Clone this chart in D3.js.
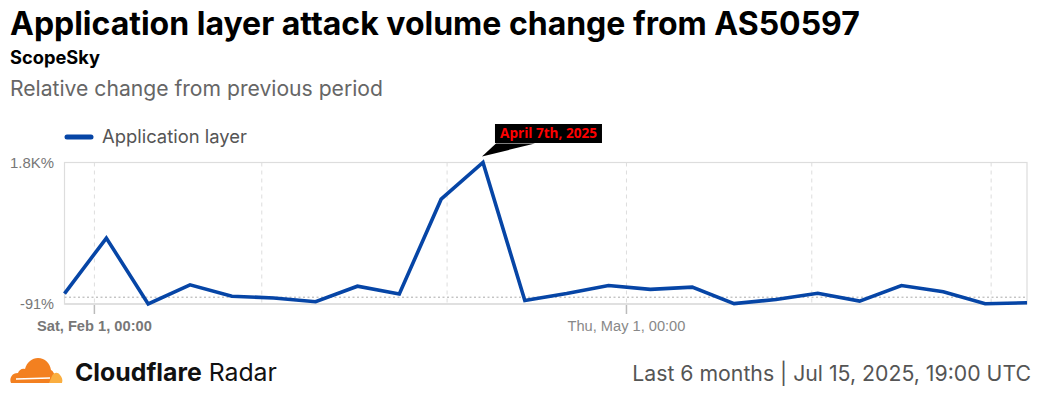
<!DOCTYPE html>
<html><head><meta charset="utf-8">
<script src="https://cdn.jsdelivr.net/npm/d3@7"></script>
<style>
html,body{margin:0;padding:0;background:#fff;}
svg{display:block;}
</style></head>
<body>
<script>
// ---- data ----
const weekStarts = ["2025-01-27","2025-02-03","2025-02-10","2025-02-17","2025-02-24","2025-03-03","2025-03-10","2025-03-17","2025-03-24","2025-03-31","2025-04-07","2025-04-14","2025-04-21","2025-04-28","2025-05-05","2025-05-12","2025-05-19","2025-05-26","2025-06-02","2025-06-09","2025-06-16","2025-06-23","2025-06-30","2025-07-07"];
const appLayerChange = [48, 790, -91, 165, 12, -10, -60, 147, 42, 1310, 1800, -45, 48, 156, 104, 135, -86, -30, 52, -52, 155, 72, -88, -75];
const yTickLabels = ["-91%", "1.8K%"];
const yTickValues = [-91, 1800];
const xTickDates = ["2025-02-01","2025-05-01"];
const xTickLabels = ["Sat, Feb 1, 00:00", "Thu, May 1, 00:00"];
const gridDates = ["2025-02-01","2025-03-01","2025-04-01","2025-05-01","2025-06-01","2025-07-01"];
const seriesName = "Application layer";
const annotationText = "April 7th, 2025";
const annotationDate = "2025-04-07";

(function(){
const W = 1045, H = 393;
const svg = d3.select("body").append("svg").attr("width", W).attr("height", H);
const parse = d3.utcParse("%Y-%m-%d");
const data = weekStarts.map((d,i)=>({date: parse(d), v: appLayerChange[i]}));

const pL = 64.5, pR = 1027, pT = 162.5, pB = 304;
const x = d3.scaleUtc().domain([parse(weekStarts[0]), parse(weekStarts[weekStarts.length-1])]).range([pL, pR]);
const y = d3.scaleLinear().domain([-91, 1800]).range([pB, pT]);

function fitText(sel, targetW){
  sel.each(function(){
    const s = d3.select(this);
    const w = this.getComputedTextLength();
    const fs = parseFloat(s.attr("font-size"));
    const t = typeof targetW === "function" ? targetW(s.datum(), this) : targetW;
    if (w > 0) s.attr("font-size", fs * t / w);
  });
}

// ---- header ----
const title = svg.append("text").attr("x", 10).attr("y", 35).attr("font-family","Inter").attr("font-weight",700)
  .attr("font-size", 28).attr("fill","#000").text("Application layer attack volume change from AS50597");
fitText(title, 850);
const sub = svg.append("text").attr("x", 10).attr("y", 64).attr("font-family","Inter").attr("font-weight",700)
  .attr("font-size", 17).attr("fill","#000").text("ScopeSky");
fitText(sub, 90);
const desc = svg.append("text").attr("x", 10).attr("y", 96).attr("font-family","Inter").attr("font-weight",400)
  .attr("font-size", 20).attr("fill","#666").text("Relative change from previous period");
fitText(desc, 373);

// ---- legend ----
svg.append("line").attr("x1", 67).attr("x2", 91).attr("y1", 137).attr("y2", 137)
  .attr("stroke","#0645a6").attr("stroke-width",5).attr("stroke-linecap","round");
const leg = svg.append("text").attr("x", 102).attr("y", 143).attr("font-family","Inter").attr("font-size", 17)
  .attr("fill","#555").text(seriesName);
fitText(leg, 145);

// ---- grid ----
const g = svg.append("g");
g.selectAll("line.vg").data(gridDates).join("line").attr("class","vg")
  .attr("x1", d=>x(parse(d))).attr("x2", d=>x(parse(d))).attr("y1", pT).attr("y2", pB)
  .attr("stroke","#ddd").attr("stroke-width",1).attr("stroke-dasharray","4,4");
g.append("rect").attr("x", pL).attr("y", pT).attr("width", pR-pL).attr("height", pB-pT)
  .attr("fill","none").attr("stroke","#ddd").attr("stroke-width",1.2);
g.append("line").attr("x1", pL).attr("x2", pR).attr("y1", y(0)).attr("y2", y(0))
  .attr("stroke","#aaa").attr("stroke-width",1).attr("stroke-dasharray","2,2.5");
g.append("line").attr("x1", pL).attr("x2", pR).attr("y1", pB).attr("y2", pB)
  .attr("stroke","#ddd").attr("stroke-width",1.5);

// ---- y axis labels ----
const yLabelW = [34, 44];
const yl = svg.selectAll("text.yl").data(yTickValues).join("text").attr("class","yl")
  .attr("x", 54).attr("y", d=>y(d)+5).attr("text-anchor","end")
  .attr("font-family","Liberation Sans, Arial").attr("font-size",14).attr("fill","#777")
  .text((d,i)=>yTickLabels[i]);
yl.each(function(d,i){ fitText(d3.select(this), yLabelW[i]); });

// ---- x axis ----
const xa = svg.append("g");
xa.selectAll("line.xt").data(xTickDates).join("line").attr("class","xt")
  .attr("x1", d=>x(parse(d))).attr("x2", d=>x(parse(d))).attr("y1", pB+1).attr("y2", pB+10)
  .attr("stroke","#bbb").attr("stroke-width",1.5);
const xLabelW = [115, 118];
const xl = xa.selectAll("text.xl").data(xTickDates).join("text").attr("class","xl")
  .attr("x", d=>x(parse(d))).attr("y", 331).attr("text-anchor","middle")
  .attr("font-family","Liberation Sans, Arial").attr("font-size",14)
  .attr("font-weight",(d,i)=> i===0 ? 700 : 400)
  .attr("fill",(d,i)=> i===0 ? "#777" : "#888")
  .text((d,i)=>xTickLabels[i]);
xl.each(function(d,i){ fitText(d3.select(this), xLabelW[i]); });

// ---- line ----
const line = d3.line().x(d=>x(d.date)).y(d=>y(d.v));
svg.append("path").datum(data).attr("d", line).attr("fill","none")
  .attr("stroke","#0645a6").attr("stroke-width",3.6).attr("stroke-linejoin","miter");

// ---- annotation ----
const ad = data.find(d=>+d.date === +parse(annotationDate));
const px = x(ad.date), py = y(ad.v);
const ann = svg.append("g");
ann.append("path").attr("d", `M${px-1},${py-6} L${px+13},${py-19} L${px+52},${py-19} Z`).attr("fill","#000");
ann.append("rect").attr("x", px+12).attr("y", py-38.5).attr("width", 107).attr("height", 19).attr("fill","#000");
const at = ann.append("text").attr("x", px+12+53.5).attr("y", py-24.5).attr("text-anchor","middle")
  .attr("font-family","Open Sans").attr("font-weight",700).attr("font-size",13).attr("fill","#ff0000")
  .text(annotationText);
fitText(at, 97);

// ---- footer ----
const logo = svg.append("g");
logo.append("path").attr("d","M11,383 C9,378 12,373 18,373 C19,370 22,368 25,369 C27,362 32,358 38,358 C45,358 50,363 51,370 C53,371 55,374 55,378 L53,383 Z").attr("fill","#F38020");
logo.append("path").attr("d","M49,383 L52,376 C54,372 58,372 60,375 C62,377 63,380 62,383 Z").attr("fill","#FAAE40");
logo.append("path").attr("d","M16,379 L50,378").attr("stroke","#fff").attr("stroke-width",1.4);
const cf = svg.append("text").attr("x", 75).attr("y", 381).attr("font-family","Inter").attr("font-size",24).attr("fill","#111");
cf.append("tspan").attr("font-weight",700).text("Cloudflare");
cf.append("tspan").attr("font-weight",400).text(" Radar");
fitText(cf, 202);
const ft = svg.append("text").attr("x", 1031).attr("y", 381).attr("text-anchor","end")
  .attr("font-family","Inter").attr("font-size",21).attr("fill","#555")
  .text("Last 6 months | Jul 15, 2025, 19:00 UTC");
fitText(ft, 399);
})();
</script>
</body></html>
